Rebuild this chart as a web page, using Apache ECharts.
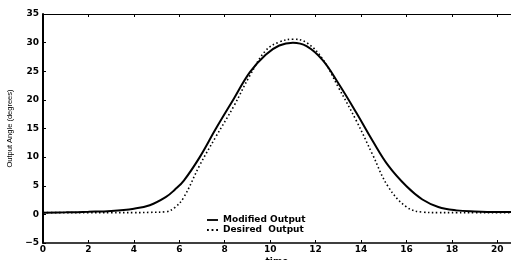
<!DOCTYPE html>
<html>
<head>
<meta charset="utf-8">
<script src="https://cdn.jsdelivr.net/npm/echarts@6/dist/echarts.min.js"></script>
<style>
  html, body { margin: 0; padding: 0; background: #fff; }
  #chart { width: 511px; height: 260px; }
</style>
</head>
<body>
<div id="chart"></div>
<script>
// 时间点
const times = [0, 1, 2, 3, 4, 4.7, 5.4, 5.8, 6.2, 6.9, 7.6, 8.4, 9.1, 9.8, 10.4, 11.0, 11.6, 12.3, 13.0, 13.8, 14.5, 15.2, 16.0, 16.7, 17.4, 18.2, 19, 20, 20.6];
// 修改后的输出 (实线)
const modified = [0.3, 0.35, 0.45, 0.6, 1.0, 1.6, 3.0, 4.3, 5.9, 10.0, 14.9, 20.2, 24.8, 27.9, 29.5, 30.0, 29.4, 27.0, 22.9, 17.7, 12.9, 8.5, 4.9, 2.6, 1.3, 0.7, 0.5, 0.4, 0.4];
// 期望输出 (点线)
const desired = [0.3, 0.3, 0.3, 0.3, 0.3, 0.35, 0.45, 1.2, 3.0, 8.6, 13.5, 18.9, 24.2, 28.6, 30.1, 30.6, 30.0, 27.2, 22.2, 16.3, 10.5, 4.8, 1.3, 0.4, 0.3, 0.3, 0.3, 0.3, 0.3];

const font = "DejaVu Sans";

function pairs(ys) {
    return times.map((t, i) => [t, ys[i]]);
}

const chart = echarts.init(document.getElementById("chart"));

const xBase = {
    type: "value",
    min: 0,
    max: 20.6,
    interval: 2,
    splitLine: { show: false },
    axisLine: { onZero: false, lineStyle: { color: "#000", width: 1.5 } },
    axisTick: { inside: true, length: 3, lineStyle: { color: "#000", width: 1 } }
};

chart.setOption({
    animation: false,
    grid: { left: 43, right: 0, top: 14, bottom: 17, outerBoundsMode: "none", containLabel: false },
    legend: {
        orient: "vertical",
        left: 207,
        top: 215,
        itemGap: 0,
        itemWidth: 11,
        itemHeight: 2,
        padding: 0,
        textStyle: { fontFamily: font, fontWeight: "bold", fontSize: 9, color: "#000", lineHeight: 10 },
        data: [
            { name: "Modified Output", icon: "path://M0,0h12v2h-12z" },
            { name: "Desired  Output", icon: "path://M0,0h2v2h-2zM5,0h2v2h-2zM10,0h2v2h-2z" }
        ]
    },
    xAxis: [
        Object.assign({}, xBase, {
            position: "bottom",
            name: "time",
            nameLocation: "middle",
            nameGap: 14,
            nameMoveOverlap: false,
            nameTextStyle: { fontFamily: font, fontWeight: "bold", fontSize: 9, color: "#000" },
            axisLabel: { fontFamily: font, fontWeight: "bold", fontSize: 9, color: "#000", margin: 2, showMaxLabel: false }
        }),
        Object.assign({}, xBase, {
            position: "top",
            axisLine: { onZero: false, lineStyle: { color: "#000", width: 1 } },
            axisLabel: { show: false }
        })
    ],
    yAxis: {
        type: "value",
        min: -5,
        max: 35,
        interval: 5,
        name: "Output Angle (degrees)",
        nameLocation: "middle",
        nameGap: 29,
        nameTextStyle: { fontFamily: "Liberation Sans", fontSize: 7.5, color: "#000" },
        splitLine: { show: false },
        axisLine: { onZero: false, lineStyle: { color: "#000", width: 2 } },
        axisTick: { inside: true, length: 3, lineStyle: { color: "#000", width: 1 } },
        axisLabel: {
            fontFamily: font, fontWeight: "bold", fontSize: 9, color: "#000", margin: 4,
            formatter: v => (v < 0 ? "\u2212" + Math.abs(v) : String(v))
        }
    },
    series: [
        {
            name: "Modified Output",
            type: "line",
            data: pairs(modified),
            smooth: 0.4,
            symbol: "none",
            lineStyle: { color: "#000", width: 2 },
            itemStyle: { color: "#000" }
        },
        {
            name: "Desired  Output",
            type: "line",
            data: pairs(desired),
            smooth: 0.4,
            symbol: "none",
            lineStyle: { color: "#000", width: 1.6, type: [1.5, 2.5] },
            itemStyle: { color: "#000" }
        }
    ]
});
</script>
</body>
</html>
